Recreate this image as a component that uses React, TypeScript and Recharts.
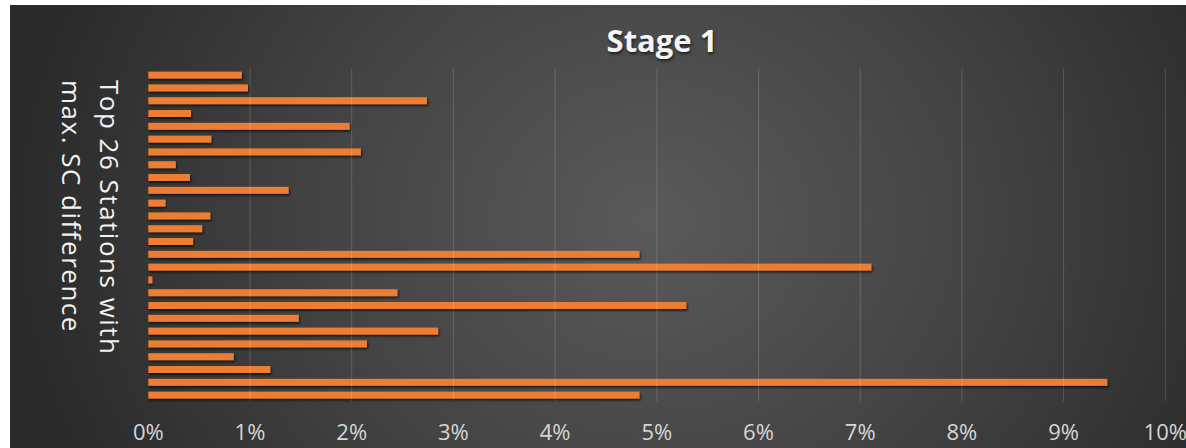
import { BarChart, Bar, XAxis, YAxis, ReferenceLine } from 'recharts';

// SC difference per station, top to bottom (percent)
const stations = [
  'S01', 'S02', 'S03', 'S04', 'S05', 'S06', 'S07', 'S08', 'S09', 'S10', 'S11', 'S12', 'S13',
  'S14', 'S15', 'S16', 'S17', 'S18', 'S19', 'S20', 'S21', 'S22', 'S23', 'S24', 'S25', 'S26',
];
const scDiff = [
  0.92, 0.98, 2.74, 0.42, 1.98, 0.62, 2.09, 0.27, 0.41, 1.38, 0.17, 0.61, 0.53,
  0.44, 4.83, 7.11, 0.04, 2.45, 5.29, 1.48, 2.85, 2.15, 0.84, 1.2, 9.43, 4.83,
];
const xTicks = [0, 1, 2, 3, 4, 5, 6, 7, 8, 9, 10];

const data = stations.map((station, i) => ({ station, value: scDiff[i] }));

const font = '"Open Sans", "Noto Sans", sans-serif';

const ShadowBar = (props: any) => {
  const { x, y, width, height } = props;
  if (!width || width <= 0) return null;
  return <rect x={x} y={y} width={width} height={height} fill="#ED7D31" filter="url(#barShadow)" />;
};

export default function App() {
  return (
    <div style={{ position: 'absolute', left: 0, top: 0, width: 1186, height: 448, background: '#fff', fontFamily: font }}>
      <div
        style={{
          position: 'absolute',
          left: 10,
          top: 5,
          width: 1176,
          height: 443,
          background: 'radial-gradient(ellipse 640px 560px at 640px 215px, #5a5a5a 0%, #444 50%, #2a2a2a 100%)',
        }}
      >
        <BarChart
          width={1176}
          height={443}
          data={data}
          layout="vertical"
          margin={{ top: 63.6, right: 20.7, left: 138.3, bottom: 16.6 }}
        >
          <defs>
            <filter id="barShadow" x="-5%" y="-60%" width="110%" height="260%">
              <feDropShadow dx="1.2" dy="1.8" stdDeviation="1" floodColor="#000" floodOpacity="0.65" />
            </filter>
          </defs>
          <XAxis
            type="number"
            domain={[0, 10]}
            ticks={xTicks}
            tickFormatter={(v) => `${v}%`}
            axisLine={false}
            tickLine={false}
            tickSize={0}
            tickMargin={23}
            height={30}
            interval={0}
            tick={{ fill: '#d6d6d6', fontSize: 22, fontFamily: font }}
          />
          <YAxis type="category" dataKey="station" hide />
          {xTicks
            .filter((t) => t > 0)
            .map((t) => (
              <ReferenceLine key={t} x={t} stroke="rgba(255,255,255,0.16)" strokeWidth={1} />
            ))}
          <Bar dataKey="value" barSize={7} shape={ShadowBar} isAnimationActive={false} />
        </BarChart>
      </div>
      <div
        style={{
          position: 'absolute',
          left: 362,
          top: 25.2,
          width: 600,
          textAlign: 'center',
          fontSize: 31,
          lineHeight: '31px',
          fontWeight: 700,
          color: '#f4f4f4',
          textShadow: '1px 2px 3px rgba(0,0,0,0.6)',
        }}
      >
        Stage 1
      </div>
      <div
        style={{
          position: 'absolute',
          left: 129,
          top: 80,
          transformOrigin: '0 0',
          transform: 'rotate(90deg)',
          whiteSpace: 'nowrap',
          fontSize: 26,
          lineHeight: '38px',
          letterSpacing: 1.5,
          color: '#f2f2f2',
        }}
      >
        <div>Top 26 Stations with</div>
        <div>max. SC difference</div>
      </div>
    </div>
  );
}
